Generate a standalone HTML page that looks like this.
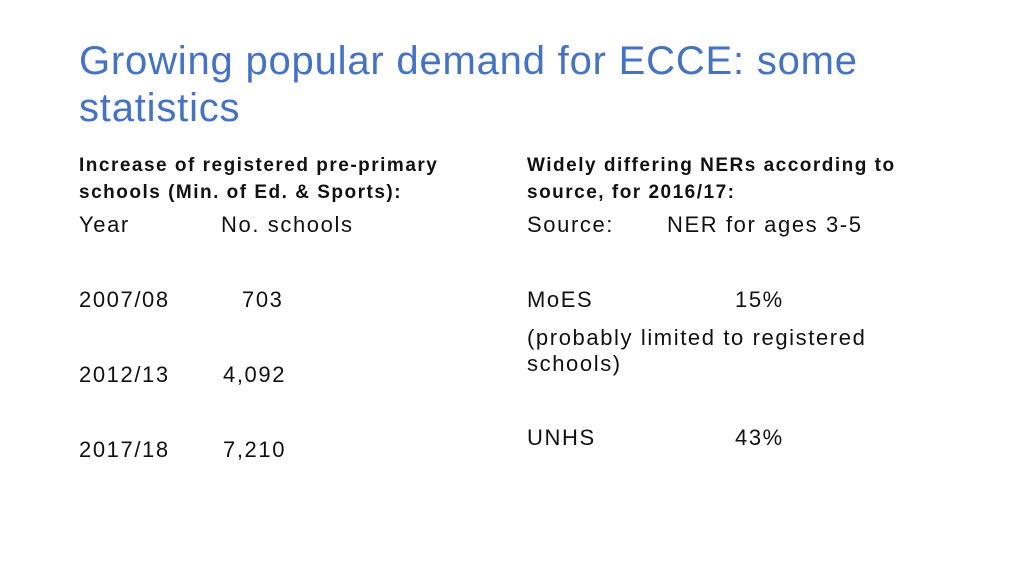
<!DOCTYPE html>
<html><head><meta charset="utf-8"><style>
body{margin:0;width:1024px;height:576px;background:#fff;overflow:hidden;position:relative;font-family:"Liberation Sans",sans-serif;color:#111}
.t{position:absolute;white-space:nowrap;line-height:1}
.title{color:#4472C4;font-size:40px;letter-spacing:0.8px}
.b{font-weight:bold;font-size:19px;letter-spacing:1.5px}
.r{font-size:22px;letter-spacing:1.6px}
</style></head><body>
<div class="t title" style="left:79px;top:41px">Growing popular demand for ECCE: some</div>
<div class="t title" style="left:79px;top:88px">statistics</div>

<div class="t b" style="left:79px;top:156px">Increase of registered pre-primary</div>
<div class="t b" style="left:79px;top:183px">schools (Min. of Ed. &amp; Sports):</div>
<div class="t r" style="left:79px;top:214px">Year</div>
<div class="t r" style="left:221px;top:214px">No. schools</div>
<div class="t r" style="left:79px;top:289px">2007/08</div>
<div class="t r" style="left:242px;top:289px">703</div>
<div class="t r" style="left:79px;top:364px">2012/13</div>
<div class="t r" style="left:223px;top:364px">4,092</div>
<div class="t r" style="left:79px;top:439px">2017/18</div>
<div class="t r" style="left:223px;top:439px">7,210</div>

<div class="t b" style="left:527px;top:156px">Widely differing NERs according to</div>
<div class="t b" style="left:527px;top:183px">source, for 2016/17:</div>
<div class="t r" style="left:527px;top:214px">Source:</div>
<div class="t r" style="left:667px;top:214px">NER for ages 3-5</div>
<div class="t r" style="left:527px;top:289px">MoES</div>
<div class="t r" style="left:735px;top:289px">15%</div>
<div class="t r" style="left:527px;top:327px">(probably limited to registered</div>
<div class="t r" style="left:527px;top:353px">schools)</div>
<div class="t r" style="left:527px;top:427px">UNHS</div>
<div class="t r" style="left:735px;top:427px">43%</div>
</body></html>
